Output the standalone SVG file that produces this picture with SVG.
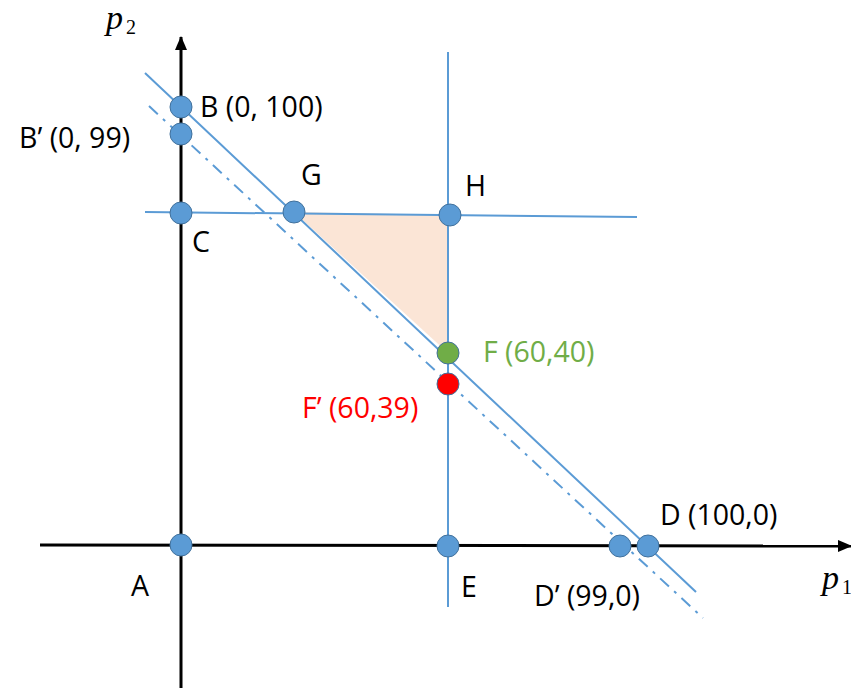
<svg xmlns="http://www.w3.org/2000/svg" width="851" height="688" viewBox="0 0 851 688">
<style>
.ax{stroke:#000;stroke-width:3;fill:none}
.bl{stroke:#5B9BD5;stroke-width:2;fill:none}
.dd{stroke:#5B9BD5;stroke-width:2;fill:none;stroke-dasharray:12 7 3 7}
.pt{fill:#5B9BD5;stroke:#41719C;stroke-width:1}
.lb{font-family:"Open Sans","Liberation Sans",sans-serif;font-size:28.5px;fill:#000}
.m{font-family:"Liberation Serif",serif;font-style:italic;font-size:34px;fill:#000}
.s{font-family:"Liberation Serif",serif;font-size:20px;fill:#000}
</style>
<defs>
<marker id="ah" markerWidth="14" markerHeight="12" refX="13" refY="6" orient="auto" markerUnits="userSpaceOnUse"><path d="M0,0 L14,6 L0,12 z" fill="#000"/></marker>
</defs>
<polygon points="294,212 448,215 448,353" fill="#FBE5D6"/>
<g id="connectors">
<line class="ax" x1="181" y1="688" x2="181" y2="37" marker-end="url(#ah)"/>
<line class="ax" x1="40" y1="545" x2="851" y2="546" marker-end="url(#ah)"/>
<line class="bl" x1="145" y1="73" x2="696" y2="592"/>
<line class="dd" x1="149" y1="106" x2="703" y2="618"/>
<line class="bl" x1="145" y1="212" x2="637" y2="217"/>
<line class="bl" x1="448" y1="52" x2="448" y2="607"/>
</g>
<g id="axis-p2"><text class="m" x="106" y="29">p</text><text class="s" x="126" y="34">2</text></g>
<g id="axis-p1"><text class="m" x="822" y="589">p</text><text class="s" x="842" y="594">1</text></g>
<g id="B"><circle class="pt" cx="181" cy="107" r="11"/><text class="lb" x="200" y="117">B (0, 100)</text></g>
<g id="B2"><circle class="pt" cx="181" cy="134" r="11"/><text class="lb" x="19" y="148">B’ (0, 99)</text></g>
<g id="C"><circle class="pt" cx="181" cy="213" r="11"/><text class="lb" x="192" y="252">C</text></g>
<g id="G"><circle class="pt" cx="294" cy="212" r="11"/><text class="lb" x="301" y="185">G</text></g>
<g id="H"><circle class="pt" cx="450" cy="215" r="11"/><text class="lb" x="465" y="196">H</text></g>
<g id="F"><circle cx="448" cy="353" r="11" fill="#70AD47" stroke="#41719C" stroke-width="1"/><text class="lb" x="483" y="362" style="fill:#70AD47">F (60,40)</text></g>
<g id="F2"><circle cx="448" cy="384" r="11" fill="#FF0000" stroke="#41719C" stroke-width="1"/><text class="lb" x="302" y="418" style="fill:#FF0000">F’ (60,39)</text></g>
<g id="A"><circle class="pt" cx="181" cy="545" r="11"/><text class="lb" x="131" y="596">A</text></g>
<g id="E"><circle class="pt" cx="448" cy="546" r="11"/><text class="lb" x="461" y="597">E</text></g>
<g id="D2"><circle class="pt" cx="620" cy="546" r="11"/><text class="lb" x="534" y="606">D’ (99,0)</text></g>
<g id="D"><circle class="pt" cx="648" cy="546" r="11"/><text class="lb" x="660" y="525">D (100,0)</text></g>
</svg>
